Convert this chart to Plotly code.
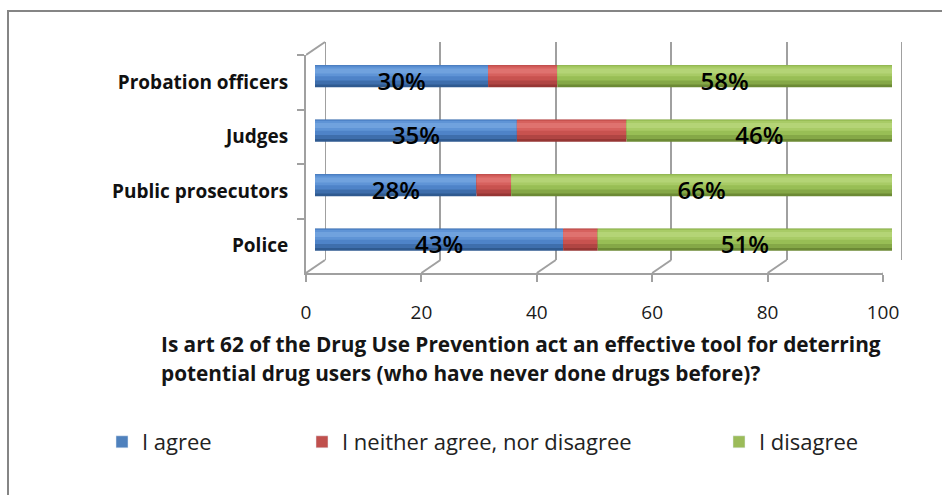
import plotly.graph_objects as go

# ---- data -------------------------------------------------------------
CATEGORIES = ["Police", "Public prosecutors", "Judges", "Probation officers"]
AGREE = [43, 28, 35, 30]
NEUTRAL = [6, 6, 19, 12]
DISAGREE = [51, 66, 46, 58]
SERIES_NAMES = ["I agree", "I neither agree, nor disagree", "I disagree"]
X_TICKS = [0, 20, 40, 60, 80, 100]
TITLE_LINES = [
    "Is art 62 of the Drug Use Prevention act an effective tool for deterring",
    "potential drug users (who have never done drugs before)?",
]

# ---- page geometry (pixels) ------------------------------------------
W, H = 942, 495
FRONT_LEFT, FRONT_RIGHT = 306, 883      # front floor edge (value axis)
FRONT_TOP, FRONT_BOTTOM = 55, 273       # front edge of the side wall
DEPTH_DX, DEPTH_DY = 19, 13             # 3-D depth offset of the back wall
BAR_LEFT, BAR_RIGHT = 315, 892          # bars sit half way into the depth
BAR_TOP, BAR_BOTTOM = 49, 267
FRAME = "#a0a0a0"
FONT = "Open Sans"


def px(x):
    return x / W


def py(y):
    return 1 - y / H


# cylinder shading per series, darkest -> lightest
SHADES = [
    ("#2f5a90", "#3e6eac", "#4e83c8", "#5f94d6", "#70a2de"),
    ("#963634", "#b04543", "#c8524f", "#d6615e", "#df726f"),
    ("#6c8a35", "#85a847", "#98be55", "#a8cb66", "#b4d476"),
]
LEGEND_COLORS = ["#4f81bd", "#c0504d", "#9bbb59"]
# (offset, width) of each shading band across the bar thickness
BANDS = [(-0.2, 0.4), (-0.15, 0.35), (-0.08, 0.28), (0.0, 0.18), (0.05, 0.09)]

series = [AGREE, NEUTRAL, DISAGREE]
bases = []
run = [0] * len(CATEGORIES)
for vals in series:
    bases.append(list(run))
    run = [r + v for r, v in zip(run, vals)]

fig = go.Figure()

# back wall subplot (gridlines only)
fig.add_trace(go.Scatter(x=[None], y=[None], xaxis="x", yaxis="y",
                         showlegend=False, hoverinfo="skip"))
# front frame subplot (value ticks + category labels)
fig.add_trace(go.Scatter(x=[0] * len(CATEGORIES), y=CATEGORIES, xaxis="x2", yaxis="y2",
                         mode="markers", marker=dict(opacity=0),
                         showlegend=False, hoverinfo="skip"))

legend_ids = ["legend", "legend2", "legend3"]
for i, (vals, base) in enumerate(zip(series, bases)):
    for k, (off, wid) in enumerate(BANDS):
        fig.add_trace(go.Bar(
            y=CATEGORIES, x=vals, base=base, orientation="h",
            xaxis="x3", yaxis="y3", offset=off, width=wid,
            marker=dict(color=SHADES[i][k], line=dict(width=0)),
            showlegend=False, hoverinfo="skip",
        ))
    # legend entry in the flat series colour
    fig.add_trace(go.Bar(
        y=[None], x=[None], orientation="h", xaxis="x3", yaxis="y3",
        name=SERIES_NAMES[i], marker=dict(color=LEGEND_COLORS[i]),
        legend=legend_ids[i], showlegend=True, hoverinfo="skip",
    ))

# percentage labels on the agree / disagree segments
for i in (0, 2):
    fig.add_trace(go.Bar(
        y=CATEGORIES, x=series[i], base=bases[i], orientation="h",
        xaxis="x3", yaxis="y3", offset=-0.27, width=0.4,
        marker=dict(color="rgba(0,0,0,0)", line=dict(width=0)),
        text=[f"{v}%" for v in series[i]],
        textposition="inside", insidetextanchor="middle", textangle=0,
        constraintext="none", cliponaxis=False,
        textfont=dict(family=FONT, size=24, color="#000000", weight=600),
        showlegend=False, hoverinfo="skip",
    ))

# slanted floor lines joining the front ticks to the back-wall gridlines
shapes = []
for v in X_TICKS:
    shapes.append(dict(
        type="line", xref="x2", yref="paper",
        xsizemode="pixel", xanchor=v, x0=0, x1=DEPTH_DX,
        ysizemode="pixel", yanchor=py(FRONT_BOTTOM), y0=0, y1=DEPTH_DY,
        line=dict(color=FRAME, width=2),
    ))
# top edge of the side wall
shapes.append(dict(
    type="line", xref="x2", yref="paper",
    xsizemode="pixel", xanchor=X_TICKS[0], x0=0, x1=DEPTH_DX,
    ysizemode="pixel", yanchor=py(FRONT_TOP), y0=0, y1=DEPTH_DY,
    line=dict(color=FRAME, width=2),
))
# back-wall edges at both ends of the value range
for v in (X_TICKS[0], X_TICKS[-1]):
    shapes.append(dict(
        type="line", xref="x", yref="y domain", x0=v, x1=v, y0=0, y1=1,
        line=dict(color=FRAME, width=2), layer="below",
    ))
# outer chart border
shapes.append(dict(
    type="rect", xref="paper", yref="paper",
    x0=px(8), x1=1.05, y0=-0.05, y1=py(11),
    line=dict(color="#858585", width=2), fillcolor="rgba(0,0,0,0)",
))

annotations = []
for line, yc in zip(TITLE_LINES, (344, 373)):
    annotations.append(dict(
        text=line, xref="paper", yref="paper", x=px(159), y=py(yc),
        xanchor="left", yanchor="middle", showarrow=False,
        font=dict(family=FONT, size=20.8, color="#151515", weight="bold"),
    ))

cat_axis = dict(type="category", categoryorder="array", categoryarray=CATEGORIES,
                range=[-0.5, len(CATEGORIES) - 0.5])

legend_common = dict(orientation="h", yanchor="middle", y=py(442), xanchor="left",
                     font=dict(family=FONT, size=22, color="#222222"),
                     bgcolor="rgba(0,0,0,0)", itemwidth=30, borderwidth=0)

fig.update_layout(
    width=W, height=H, autosize=False,
    margin=dict(l=0, r=0, t=0, b=0, pad=0, autoexpand=False),
    paper_bgcolor="white", plot_bgcolor="rgba(0,0,0,0)",
    font=dict(family=FONT, color="#111111"),
    barmode="overlay",
    shapes=shapes, annotations=annotations,
    # back wall
    xaxis=dict(domain=[px(FRONT_LEFT + DEPTH_DX), px(FRONT_RIGHT + DEPTH_DX)],
               range=[0, 100], tickvals=X_TICKS, showgrid=True, gridcolor=FRAME,
               gridwidth=2, zeroline=False, showline=False, showticklabels=False,
               ticks="", anchor="y", fixedrange=True),
    yaxis=dict(domain=[py(FRONT_BOTTOM - DEPTH_DY), py(FRONT_TOP - DEPTH_DY)],
               visible=False, range=[0, 1], anchor="x", fixedrange=True),
    # front frame
    xaxis2=dict(domain=[px(FRONT_LEFT), px(FRONT_RIGHT)], range=[0, 100],
                tickvals=X_TICKS, showgrid=False, zeroline=False,
                showline=True, linecolor=FRAME, linewidth=2,
                ticks="outside", ticklen=7, tickwidth=2, tickcolor=FRAME,
                ticklabelstandoff=14,
                tickfont=dict(family=FONT, size=19, color="#1a1a1a"),
                anchor="y2", fixedrange=True),
    yaxis2=dict(domain=[py(FRONT_BOTTOM), py(FRONT_TOP)], **cat_axis,
                showgrid=False, zeroline=False, showline=True, linecolor=FRAME,
                linewidth=2, ticks="outside", tickson="boundaries", ticklen=7,
                tickwidth=2, tickcolor=FRAME, ticklabelstandoff=12,
                tickfont=dict(family=FONT, size=19, color="#111111", weight="bold"),
                anchor="x2", fixedrange=True),
    # bars
    xaxis3=dict(domain=[px(BAR_LEFT), px(BAR_RIGHT)], range=[0, 100],
                visible=False, anchor="y3", fixedrange=True),
    yaxis3=dict(domain=[py(BAR_BOTTOM), py(BAR_TOP)], **cat_axis,
                visible=False, anchor="x3", fixedrange=True),
    legend=dict(x=px(122 - 20), **legend_common),
    legend2=dict(x=px(322 - 20), **legend_common),
    legend3=dict(x=px(739 - 20), **legend_common),
)

fig.write_html("out.html", config={"responsive": False})
